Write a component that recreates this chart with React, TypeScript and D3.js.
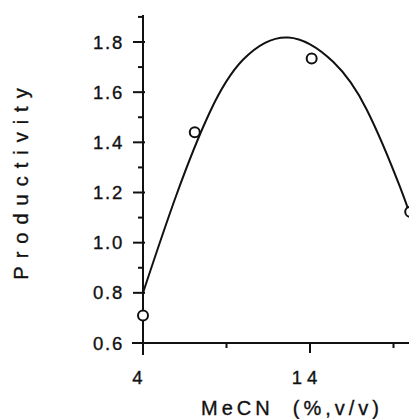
import React from "react";
import * as d3 from "d3";

const pointX = [4, 7.1, 14.1, 20.0];
const pointY = [0.71, 1.44, 1.734, 1.123];

const curveX = [4, 6.0, 8.0, 10.0, 12.7, 15.4, 17.4, 19.4, 20.4];
const curveY = [0.8, 1.19, 1.52, 1.73, 1.818, 1.72, 1.53, 1.22, 1.03];

const yMajor = [0.6, 0.8, 1.0, 1.2, 1.4, 1.6, 1.8];
const yMinor = [0.7, 0.9, 1.1, 1.3, 1.5, 1.7, 1.9];
const xMajor = [4, 14];
const xMinor = [9, 19];

const xTitle = "MeCN  (%,v/v)";
const yTitle = "Productivity";

export default function App() {
  const W = 409, H = 419;
  const x = d3.scaleLinear().domain([4, 14]).range([143, 310]);
  const y = d3.scaleLinear().domain([0.6, 1.8]).range([343, 42]);
  const ink = "#111";
  const line = d3
    .line<number>()
    .x((_, i) => x(curveX[i]))
    .y((d) => y(d))
    .curve(d3.curveNatural);
  const x0 = x(4);
  const y0 = y(0.6);
  const font = "Arial, 'Liberation Sans', sans-serif";
  const textStroke = { stroke: ink, strokeWidth: 0.35 };
  return (
    <svg
      width={W}
      height={H}
      style={{ position: "absolute", left: 0, top: 0, background: "#fff" }}
      fontFamily={font}
    >
      <rect width={W} height={H} fill="#fff" />
      <line x1={x0} x2={x0} y1={y(1.9) - 2} y2={y0 + 12} stroke={ink} strokeWidth={2} />
      <line x1={x0 - 11} x2={W + 2} y1={y0} y2={y0} stroke={ink} strokeWidth={2} />
      {yMajor.map((v) => (
        <g key={"ym" + v}>
          <line x1={x0 - 10} x2={x0 + 2} y1={y(v)} y2={y(v)} stroke={ink} strokeWidth={2} />
          <text
            x={124}
            y={y(v)}
            dy="0.36em"
            textAnchor="end"
            fontSize={18.5}
            letterSpacing={1.8}
            fill={ink}
            {...textStroke}
          >
            {v.toFixed(1)}
          </text>
        </g>
      ))}
      {yMinor.map((v) => (
        <line key={"yn" + v} x1={x0 - 5} x2={x0} y1={y(v)} y2={y(v)} stroke={ink} strokeWidth={2} />
      ))}
      {xMajor.map((v) => (
        <g key={"xm" + v}>
          <line x1={x(v)} x2={x(v)} y1={y0} y2={y0 + 10} stroke={ink} strokeWidth={2} />
          <text
            x={x(v) - 3}
            y={384}
            textAnchor="middle"
            fontSize={18.5}
            letterSpacing={5}
            fill={ink}
            {...textStroke}
          >
            {String(v)}
          </text>
        </g>
      ))}
      {xMinor.map((v) => (
        <line key={"xn" + v} x1={x(v)} x2={x(v)} y1={y0} y2={y0 + 5} stroke={ink} strokeWidth={2} />
      ))}
      <text
        x={292}
        y={415}
        textAnchor="middle"
        fontSize={20}
        letterSpacing={4}
        fill={ink}
        style={{ whiteSpace: "pre" }}
        {...textStroke}
      >
        {xTitle}
      </text>
      <text
        transform={`translate(28,180) rotate(-90)`}
        textAnchor="middle"
        fontSize={20}
        letterSpacing={8}
        fill={ink}
        {...textStroke}
      >
        {yTitle}
      </text>
      <path d={line(curveY) || ""} fill="none" stroke={ink} strokeWidth={2} />
      {pointX.map((px, i) => (
        <circle
          key={"p" + i}
          cx={x(px)}
          cy={y(pointY[i])}
          r={5}
          fill="#fff"
          stroke={ink}
          strokeWidth={2}
        />
      ))}
    </svg>
  );
}
